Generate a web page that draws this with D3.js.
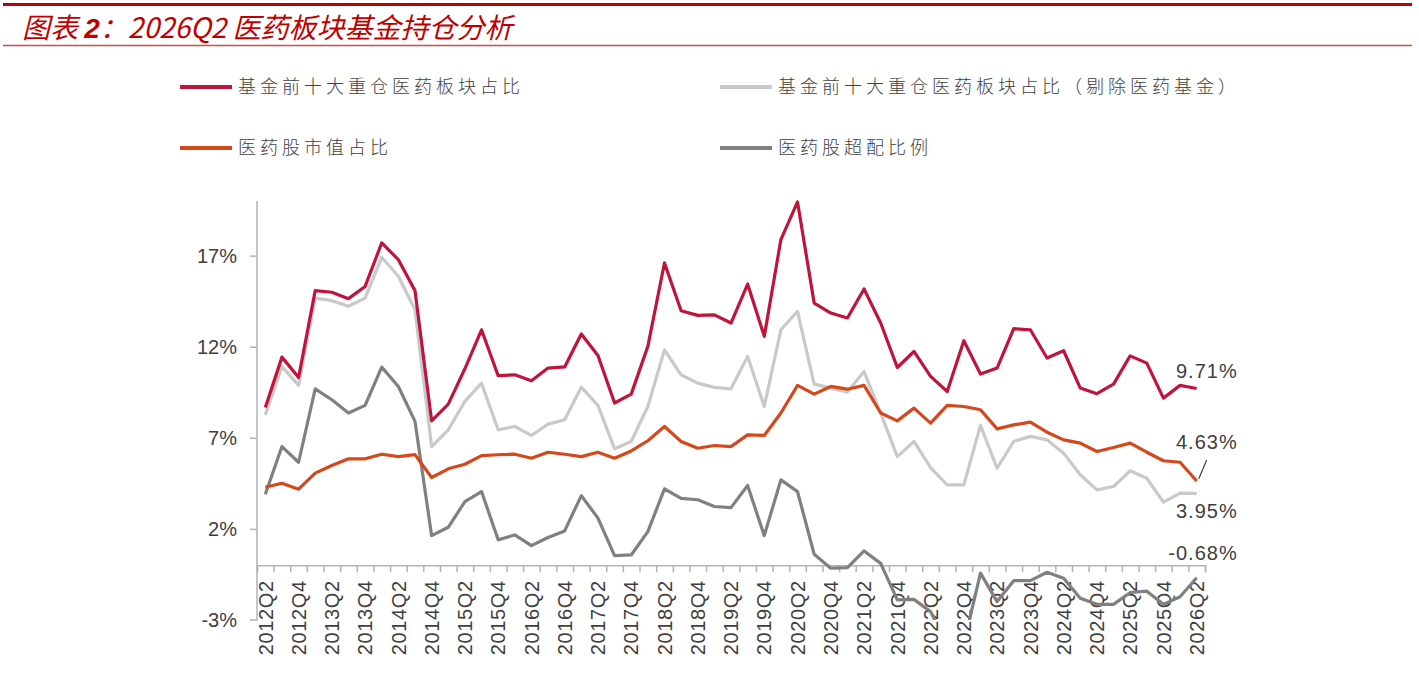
<!DOCTYPE html>
<html>
<head>
<meta charset="utf-8">
<script src="https://cdn.jsdelivr.net/npm/d3@7"></script>
<style>
  body { margin: 0; background: #fff; }
  svg { display: block; }
</style>
</head>
<body>
<svg id="chart"></svg>
<script>
// quarters on the x axis
const quarters = [
  "2012Q2", "2012Q3", "2012Q4", "2013Q1", "2013Q2", "2013Q3", "2013Q4", "2014Q1",
  "2014Q2", "2014Q3", "2014Q4", "2015Q1", "2015Q2", "2015Q3", "2015Q4", "2016Q1",
  "2016Q2", "2016Q3", "2016Q4", "2017Q1", "2017Q2", "2017Q3", "2017Q4", "2018Q1",
  "2018Q2", "2018Q3", "2018Q4", "2019Q1", "2019Q2", "2019Q3", "2019Q4", "2020Q1",
  "2020Q2", "2020Q3", "2020Q4", "2021Q1", "2021Q2", "2021Q3", "2021Q4", "2022Q1",
  "2022Q2", "2022Q3", "2022Q4", "2023Q1", "2023Q2", "2023Q3", "2023Q4", "2024Q1",
  "2024Q2", "2024Q3", "2024Q4", "2025Q1", "2025Q2", "2025Q3", "2025Q4", "2026Q1",
  "2026Q2"
];

// 基金前十大重仓医药板块占比 (%)
const top10Share = [
  8.67, 11.43, 10.31, 15.08, 14.99, 14.64, 15.31, 17.70, 16.78, 15.08,
  7.93, 8.85, 10.79, 12.93, 10.41, 10.46, 10.13, 10.83, 10.89, 12.70,
  11.52, 8.91, 9.40, 12.02, 16.60, 13.98, 13.72, 13.75, 13.30, 15.44,
  12.57, 17.88, 19.95, 14.40, 13.85, 13.58, 15.17, 13.30, 10.86, 11.74,
  10.37, 9.54, 12.33, 10.50, 10.83, 12.99, 12.93, 11.38, 11.78, 9.73,
  9.42, 9.95, 11.50, 11.10, 9.18, 9.88, 9.71
];

// 基金前十大重仓医药板块占比（剔除医药基金） (%)
const top10ShareExPharma = [
  8.26, 10.92, 9.88, 14.67, 14.53, 14.22, 14.67, 16.91, 15.87, 14.03,
  6.52, 7.44, 9.00, 10.00, 7.44, 7.62, 7.13, 7.75, 7.99, 9.78,
  8.78, 6.40, 6.80, 8.72, 11.83, 10.46, 10.00, 9.77, 9.69, 11.47,
  8.72, 12.93, 13.94, 9.95, 9.73, 9.51, 10.64, 8.36, 5.97, 6.80,
  5.37, 4.42, 4.42, 7.68, 5.33, 6.80, 7.08, 6.89, 6.16, 4.97,
  4.14, 4.33, 5.19, 4.78, 3.47, 3.96, 3.95
];

// 医药股市值占比 (%)
const marketCapShare = [
  4.29, 4.51, 4.18, 5.06, 5.48, 5.85, 5.85, 6.10, 5.97, 6.08,
  4.82, 5.30, 5.55, 6.02, 6.07, 6.10, 5.88, 6.21, 6.10, 5.97,
  6.21, 5.88, 6.28, 6.84, 7.62, 6.80, 6.43, 6.58, 6.52, 7.16,
  7.13, 8.36, 9.88, 9.40, 9.82, 9.67, 9.88, 8.36, 7.93, 8.63,
  7.81, 8.78, 8.72, 8.54, 7.49, 7.71, 7.86, 7.31, 6.89, 6.71,
  6.25, 6.47, 6.71, 6.21, 5.74, 5.66, 4.63
];

// 医药股超配比例 (%)
const overweight = [
  3.90, 6.52, 5.66, 9.69, 9.09, 8.36, 8.78, 10.88, 9.82, 7.90,
  1.63, 2.09, 3.50, 4.05, 1.40, 1.67, 1.08, 1.53, 1.89, 3.83,
  2.59, 0.53, 0.57, 1.85, 4.20, 3.68, 3.60, 3.23, 3.17, 4.38,
  1.63, 4.69, 4.05, 0.61, -0.16, -0.12, 0.79, 0.11, -1.90, -1.87,
  -2.54, -4.36, -4.30, -0.43, -1.99, -0.84, -0.84, -0.38, -0.71, -1.81,
  -2.14, -2.14, -1.49, -1.42, -2.14, -1.72, -0.68
];

const yTicks = [-3, 2, 7, 12, 17];

const series = [
  { name: "基金前十大重仓医药板块占比", values: top10Share, color: "#c0143c" },
  { name: "基金前十大重仓医药板块占比（剔除医药基金）", values: top10ShareExPharma, color: "#c9c9c9" },
  { name: "医药股市值占比", values: marketCapShare, color: "#d4481a" },
  { name: "医药股超配比例", values: overweight, color: "#808080" }
];

const W = 1419, H = 677;
const margin = { top: 201, right: 214, bottom: 57, left: 257 };
const width = W - margin.left - margin.right;
const height = H - margin.top - margin.bottom;

const svg = d3.select("#chart").attr("width", W).attr("height", H);

// title block
svg.append("line")
  .attr("x1", 3).attr("x2", 1412).attr("y1", 4.5).attr("y2", 4.5)
  .attr("stroke", "#c00000").attr("stroke-width", 3);
svg.append("line")
  .attr("x1", 3).attr("x2", 1412).attr("y1", 45.5).attr("y2", 45.5)
  .attr("stroke", "#d24b4b").attr("stroke-width", 1.5);
const title = svg.append("text")
  .attr("x", 22).attr("y", 38)
  .attr("fill", "#c00000")
  .attr("font-family", "'Noto Sans CJK SC', sans-serif")
  .attr("font-size", 28)
  .attr("font-style", "italic");
title.append("tspan").text("图表 ");
title.append("tspan").attr("font-weight", "bold").attr("font-family", "'Liberation Sans', Arial").text("2");
title.append("tspan").text("：2026Q2 医药板块基金持仓分析");

// legend
const legendPos = [[180, 87], [720, 87], [180, 148], [720, 148]];
series.forEach((s, i) => {
  const [lx, ly] = legendPos[i];
  svg.append("line")
    .attr("x1", lx).attr("x2", lx + 52).attr("y1", ly).attr("y2", ly)
    .attr("stroke", s.color).attr("stroke-width", 4);
  svg.append("text")
    .attr("x", lx + 58).attr("y", ly)
    .attr("dy", "0.36em")
    .attr("font-family", "'Noto Sans CJK SC', sans-serif")
    .attr("font-size", 18)
    .attr("font-weight", 300)
    .attr("letter-spacing", 4)
    .attr("fill", "#404040")
    .text(s.name);
});

const chart = svg.append("g")
  .attr("transform", `translate(${margin.left}, ${margin.top})`);

const x = d3.scaleBand().domain(quarters).range([0, width]).padding(0);
const xi = d3.scaleLinear().domain([0, quarters.length]).range([0, width]);
const y = d3.scaleLinear().domain([-3, 20]).range([height, 0]);

// y axis
const yAxis = chart.append("g")
  .call(d3.axisLeft(y).tickValues(yTicks).tickSize(7).tickPadding(13).tickFormat(d => d + "%"));
yAxis.select(".domain").attr("stroke", "#b4b4b4").attr("stroke-width", 1.5)
  .attr("d", `M-7,${height}H0V0`);
yAxis.selectAll(".tick line").attr("stroke", "#b4b4b4").attr("stroke-width", 1.5);
yAxis.selectAll(".tick text")
  .attr("font-family", "'Liberation Sans', Arial, sans-serif")
  .attr("font-size", 20).attr("fill", "#404040");
yAxis.select(".tick:first-of-type line").remove();

// x axis at 0%, ticks between categories
const xAxis = chart.append("g")
  .attr("transform", `translate(0, ${y(0)})`)
  .call(d3.axisBottom(xi).tickValues(d3.range(quarters.length + 1)).tickSize(7).tickFormat(""));
xAxis.select(".domain").attr("stroke", "#b4b4b4").attr("stroke-width", 1.5);
xAxis.selectAll(".tick line").attr("stroke", "#b4b4b4").attr("stroke-width", 1.5);

// x labels every other quarter
const xLabels = chart.append("g")
  .attr("transform", `translate(0, ${y(0)})`)
  .call(d3.axisBottom(x)
    .tickValues(quarters.filter((q, i) => i % 2 === 0))
    .tickSize(0));
xLabels.select(".domain").remove();
xLabels.selectAll(".tick text")
  .attr("transform", "rotate(-90)")
  .attr("x", -15).attr("y", 0).attr("dy", "0.36em")
  .style("text-anchor", "end")
  .attr("font-family", "'Liberation Sans', Arial, sans-serif")
  .attr("font-size", 20).attr("letter-spacing", 0.6).attr("fill", "#404040");

// lines
chart.append("clipPath").attr("id", "plot-clip")
  .append("rect").attr("x", 0).attr("y", -3).attr("width", width + 4).attr("height", height + 3);

const line = d3.line()
  .x((d, i) => x(quarters[i]) + x.bandwidth() / 2)
  .y(d => y(d));

const drawOrder = [1, 0, 3, 2];
drawOrder.forEach(k => {
  chart.append("path")
    .datum(series[k].values)
    .attr("clip-path", "url(#plot-clip)")
    .attr("fill", "none")
    .attr("stroke", series[k].color)
    .attr("stroke-width", 3.2)
    .attr("stroke-linejoin", "round")
    .attr("d", line);
});

// end labels
const last = quarters.length - 1;
const lastX = x(quarters[last]) + x.bandwidth() / 2;
const endVals = [top10Share[last], marketCapShare[last], top10ShareExPharma[last], overweight[last]];
const endOffsets = [-18, -39, 17, -25];
endVals.forEach((v, i) => {
  chart.append("text")
    .attr("x", lastX + 41)
    .attr("y", y(v) + endOffsets[i])
    .attr("dy", "0.36em")
    .style("text-anchor", "end")
    .attr("font-family", "'Liberation Sans', Arial, sans-serif")
    .attr("font-size", 20).attr("letter-spacing", 1).attr("fill", "#404040")
    .text(v.toFixed(2) + "%");
});
// leader for the 4.63% label
chart.append("line")
  .attr("x1", lastX + 2).attr("y1", y(marketCapShare[last]) - 2)
  .attr("x2", lastX + 10).attr("y2", y(marketCapShare[last]) - 21)
  .attr("stroke", "#404040").attr("stroke-width", 1.2);
</script>
</body>
</html>
